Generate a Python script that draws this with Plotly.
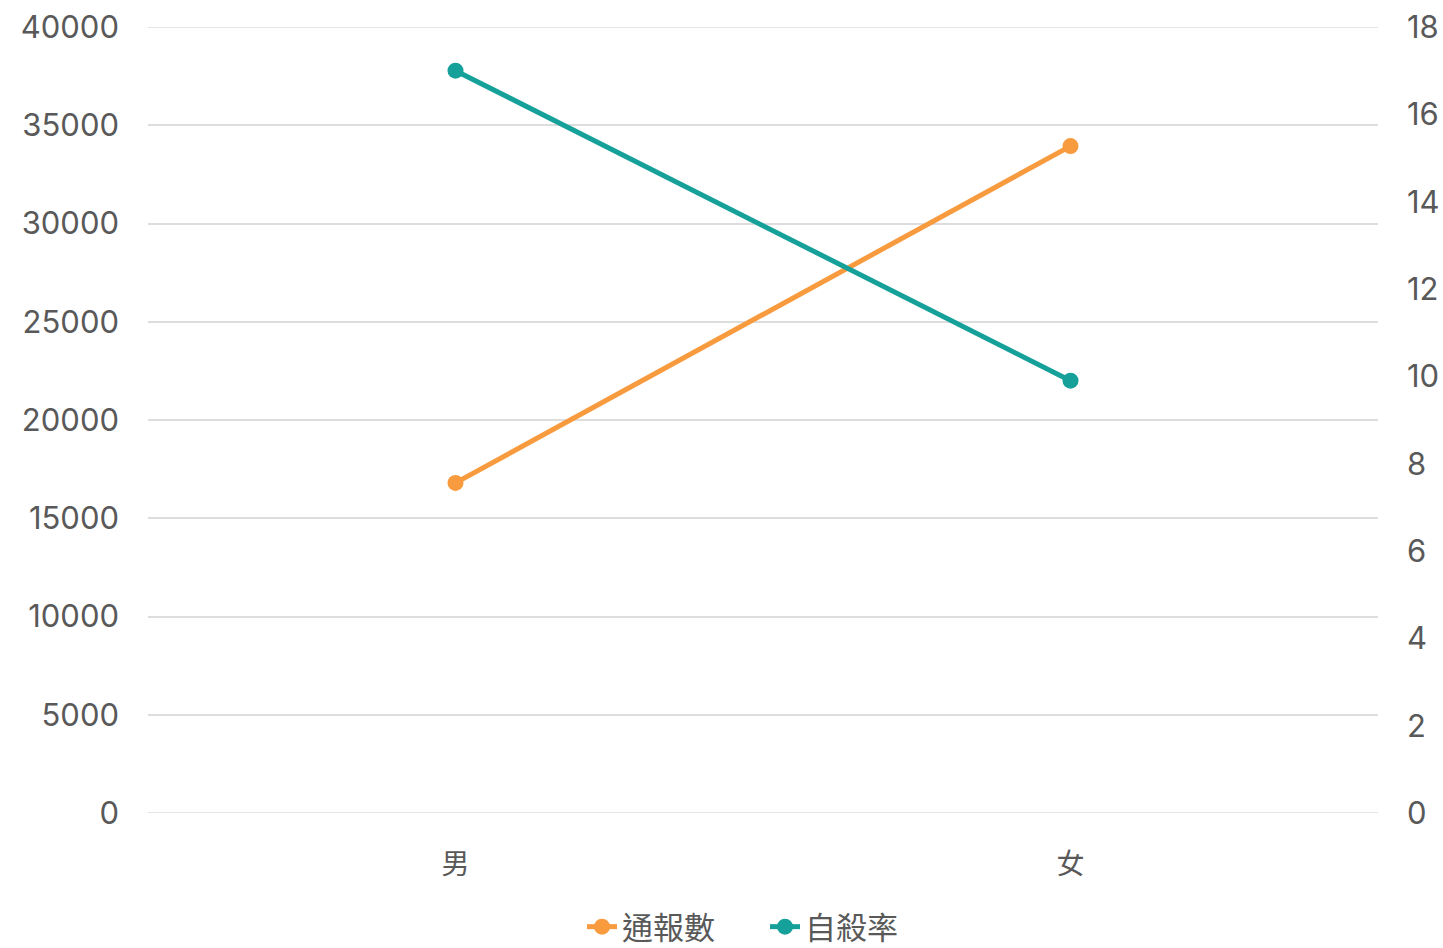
import plotly.graph_objects as go

categories = ["男", "女"]
reports = [16800, 33940]
suicide_rate = [17.0, 9.9]
left_ticks = [0, 5000, 10000, 15000, 20000, 25000, 30000, 35000, 40000]
right_ticks = [0, 2, 4, 6, 8, 10, 12, 14, 16, 18]

ORANGE = "#F89A3E"
TEAL = "#16A09A"
TICK_FONT = dict(family="Inter", size=31, color="#595959")
CJK = "Noto Sans CJK TC"

fig = go.Figure()
fig.add_trace(go.Scatter(
    x=categories, y=reports, name="通報數", mode="lines+markers",
    line=dict(color=ORANGE, width=5), marker=dict(size=16, color=ORANGE),
    yaxis="y",
))
fig.add_trace(go.Scatter(
    x=categories, y=suicide_rate, name="自殺率", mode="lines+markers",
    line=dict(color=TEAL, width=5), marker=dict(size=16, color=TEAL),
    yaxis="y2",
))

# edge gridlines (plotly drops gridlines at the exact range ends)
for v in (left_ticks[0], left_ticks[-1]):
    fig.add_shape(type="line", xref="paper", yref="y", x0=0, x1=1, y0=v, y1=v,
                  line=dict(color="#DDDDDD", width=1.5), layer="below")

fig.update_layout(
    width=1443, height=948,
    margin=dict(l=148, r=65, t=27, b=135),
    plot_bgcolor="white", paper_bgcolor="white",
    showlegend=True,
    legend=dict(orientation="h", xref="container", yref="container",
                x=582 / 1443, xanchor="left", y=21 / 948, yanchor="middle",
                font=dict(family=CJK, size=31, color="#595959"),
                entrywidth=138, entrywidthmode="pixels",
                itemwidth=30, tracegroupgap=0),
    xaxis=dict(
        type="category", range=[-0.5, 1.5], showgrid=False, zeroline=False,
        showline=False, ticks="", automargin=False, ticklabelstandoff=32,
        tickfont=dict(family=CJK, size=28, color="#595959"),
    ),
    yaxis=dict(
        range=[0, 40000], tickvals=left_ticks, ticktext=[str(v) for v in left_ticks],
        showgrid=True, gridcolor="#DDDDDD", gridwidth=1.5, zeroline=False,
        showline=False, ticks="", tickfont=TICK_FONT, ticklabelstandoff=28,
        automargin=False,
    ),
    yaxis2=dict(
        range=[0, 18], tickvals=right_ticks, ticktext=[str(v) for v in right_ticks],
        overlaying="y", side="right", showgrid=False, zeroline=False,
        showline=False, ticks="", tickfont=TICK_FONT, ticklabelstandoff=28,
        automargin=False,
    ),
)

fig.write_html("out.html")
